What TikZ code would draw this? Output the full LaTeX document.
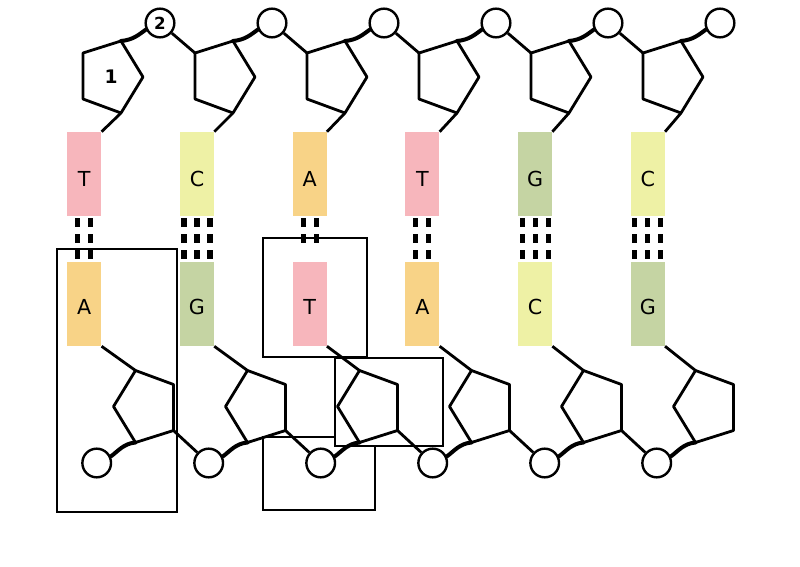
\documentclass[tikz,border=0pt]{standalone}
\usepackage{fontspec}
\setmainfont{DejaVu Sans}
\usetikzlibrary{calc}
\definecolor{baseT}{RGB}{247,182,188}
\definecolor{baseC}{RGB}{238,241,165}
\definecolor{baseA}{RGB}{248,211,135}
\definecolor{baseG}{RGB}{197,212,163}

\begin{document}
\begin{tikzpicture}[x=0.75pt, y=-0.75pt,
    bond/.style={line width=2.1pt, line join=round},
    sugarlink/.style={line width=3pt, line cap=round},
    phosphate/.style={circle, draw, line width=1.8pt, fill=white, minimum size=21.5pt, inner sep=0pt},
    nucleobase/.style={minimum width=25.5pt, minimum height=63pt, inner sep=0pt, text depth=0pt, font=\fontsize{15.5}{15.5}\selectfont},
    hbond/.style={fill=black, minimum width=3.8pt, minimum height=6.5pt, inner sep=0pt},
    frame/.style={draw, fill=white, line width=1.3pt},
    numlabel/.style={font=\bfseries\fontsize{12.5}{13}\selectfont, inner sep=0pt}]
    \fill[white] (0,0) rectangle (800,567);
    \useasboundingbox (0,0) rectangle (800,567);

    \draw[frame] (57,249) rectangle (177,512);
    \draw[frame] (263,437) rectangle (375,510);
    \draw[frame] (335,358) rectangle (443,446);
    \draw[frame] (263,238) rectangle (367,357);

    \foreach \topb/\botb [count=\i from 0] in {T/A, C/G, A/T, T/A, G/C, C/G} {
      \node[nucleobase, text height=18.5pt, fill=base\topb] (top\i) at ({84.3+\i*112.7},174) {\topb};
      \node[nucleobase, text height=15pt, fill=base\botb] (bot\i) at ({84.3+\i*112.7},304) {\botb};
    }

    \foreach \i/\hb/\rows in {0/2/3, 1/3/3, 2/2/2, 3/2/3, 4/3/3, 5/3/3}
      \foreach \k in {1,...,\hb}
        \foreach \r in {1,...,\rows}
          \node[hbond] (hb\i-\k-\r) at ({84.3+\i*112.7+(\k-(\hb+1)/2)*13}, {206.5+\r*16}) {};

    \foreach \i in {0,...,5} {
      \begin{scope}[shift={(\i*112,0)}]
        \coordinate (ta\i) at (121,41);
        \coordinate (tb\i) at (83,53);
        \coordinate (tc\i) at (83,99);
        \coordinate (td\i) at (121,113);
        \coordinate (te\i) at (143,77);
        \coordinate (ba\i) at (135.5,442.5);
        \coordinate (bb\i) at (173.5,430.5);
        \coordinate (bc\i) at (173.5,384.5);
        \coordinate (bd\i) at (135.5,370.5);
        \coordinate (be\i) at (113.5,406.5);
        \node[phosphate] (tp\i) at (160,23) {};
        \node[phosphate] (bp\i) at (96.7,463) {};
      \end{scope}
      \draw[bond] (ta\i) -- (tb\i) -- (tc\i) -- (td\i) -- (te\i) -- cycle;
      \draw[bond] (ba\i) -- (bb\i) -- (bc\i) -- (bd\i) -- (be\i) -- cycle;
      \draw[bond] (td\i) -- (top\i.north east);
      \draw[bond] (bot\i.south east) -- (bd\i);
      \draw[sugarlink] (ta\i) .. controls +(12,-1) and +(-7,5) .. (tp\i.205);
      \draw[sugarlink] (ba\i) .. controls +(-12,1) and +(7,-5) .. (bp\i.25);
    }
    \foreach \i [count=\j] in {0,...,4} {
      \draw[bond] (tp\i) -- (tb\j);
      \draw[bond] (bb\i) -- (bp\j);
    }

    \node[numlabel] (num2) at (tp0) {2};
    \node[numlabel, font=\bfseries\fontsize{14}{14}\selectfont] (num1) at (111,77) {1};
  \end{tikzpicture}
\end{document}
